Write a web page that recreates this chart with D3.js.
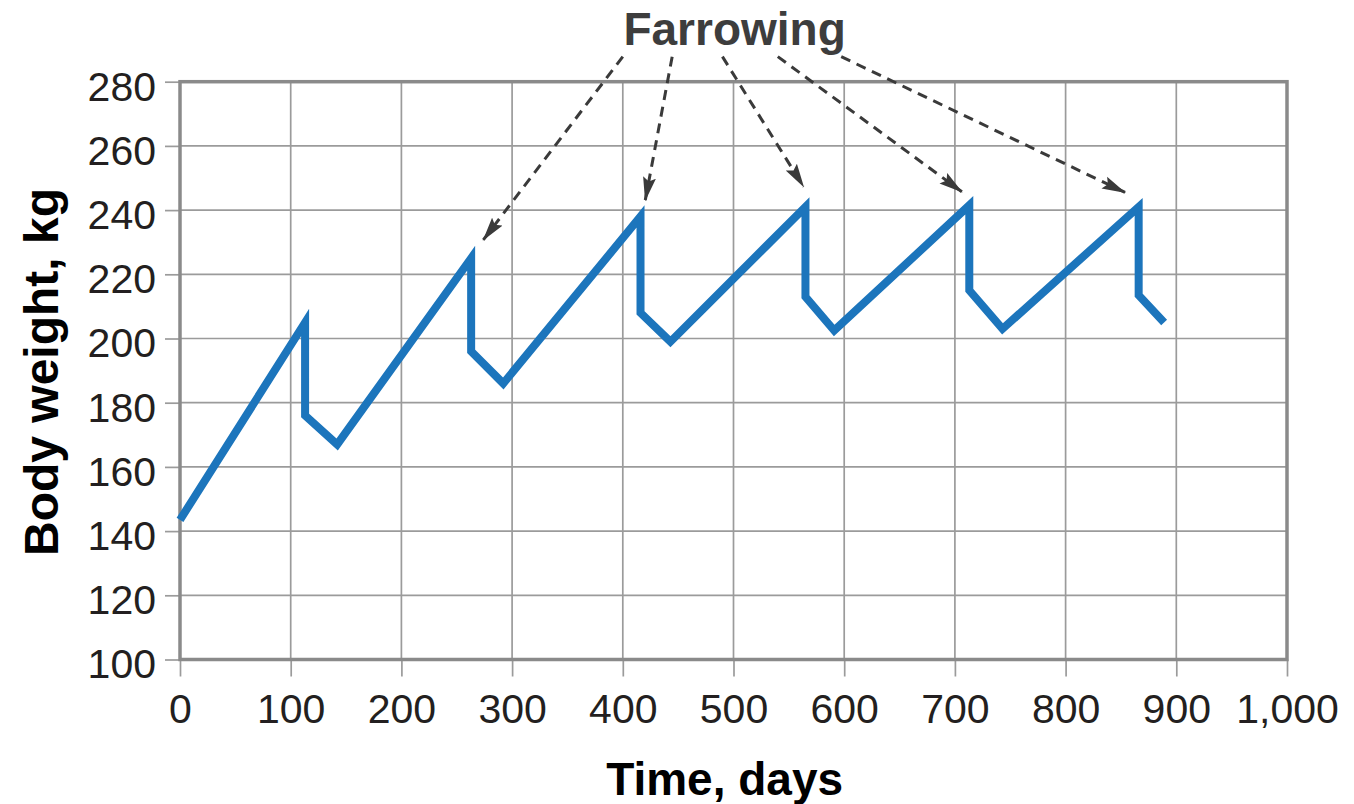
<!DOCTYPE html>
<html>
<head>
<meta charset="utf-8">
<script src="https://cdn.jsdelivr.net/npm/d3@7"></script>
<style>
  html, body { margin: 0; padding: 0; background: #fff; }
  svg { display: block; }
</style>
</head>
<body>
<svg id="chart" width="1354" height="804"></svg>
<script>
// ---- Data ----
const days    = [0, 113, 113, 142, 263, 263, 292, 416, 416, 443, 565, 565, 591, 713, 713, 743, 866, 866, 889];
const weights = [143.5, 205, 176, 167, 225, 196, 186, 238, 208, 199, 241, 213, 202.5, 241.5, 215, 203, 241, 213.5, 205];
const xTicks = [0, 100, 200, 300, 400, 500, 600, 700, 800, 900, 1000];
const yTicks = [100, 120, 140, 160, 180, 200, 220, 240, 260, 280];
// Annotation arrows (start -> tip, in data units)
const arrowStartDay = [400, 444.6, 490, 540, 597.3];
const arrowStartKg  = [287.8, 287.8, 287.8, 287.8, 287.8];
const arrowTipDay   = [274, 420.3, 563.3, 706.3, 853.7];
const arrowTipKg    = [230.7, 243.1, 247.3, 245.7, 245.5];
const annotationText = "Farrowing";
const xTitle = "Time, days";
const yTitle = "Body weight, kg";

// ---- Layout ----
const svg = d3.select("#chart");
const x = d3.scaleLinear().domain([0, 1000]).range([180, 1287]);
const y = d3.scaleLinear().domain([100, 280]).range([659.5, 81.7]);

const gridColor = "#9b9b9b";
const frameColor = "#8a8a8a";
const textColor = "#231f20";
const lineColor = "#1c75bc";
const arrowColor = "#3a3a3a";

// gridlines
svg.append("g").selectAll("line.v")
  .data(xTicks.filter(d => d > 0 && d < 1000))
  .join("line")
  .attr("x1", d => x(d)).attr("x2", d => x(d))
  .attr("y1", y(280)).attr("y2", y(100))
  .attr("stroke", gridColor).attr("stroke-width", 1.7);
svg.append("g").selectAll("line.h")
  .data(yTicks.filter(d => d > 100 && d < 280))
  .join("line")
  .attr("x1", x(0)).attr("x2", x(1000))
  .attr("y1", d => y(d)).attr("y2", d => y(d))
  .attr("stroke", gridColor).attr("stroke-width", 1.7);

// axes (ticks + labels)
const xAxis = svg.append("g")
  .attr("transform", `translate(0,${y(100)})`)
  .call(d3.axisBottom(x).tickValues(xTicks).tickFormat(d3.format(",")).tickSize(17).tickPadding(17));
const yAxis = svg.append("g")
  .attr("transform", `translate(${x(0)},0)`)
  .call(d3.axisLeft(y).tickValues(yTicks).tickSize(15).tickPadding(9));
[xAxis, yAxis].forEach(g => {
  g.select(".domain").remove();
  g.selectAll(".tick line").attr("stroke", gridColor).attr("stroke-width", 1.7);
  g.selectAll(".tick text")
    .attr("fill", textColor)
    .style("font-family", "'Liberation Sans', Arial, sans-serif")
    .style("font-size", "41px");
});
yAxis.selectAll(".tick text").attr("dy", "0.45em");

// frame
svg.append("rect")
  .attr("x", x(0)).attr("y", y(280))
  .attr("width", x(1000) - x(0)).attr("height", y(100) - y(280))
  .attr("fill", "none").attr("stroke", frameColor).attr("stroke-width", 3.5);

// data line
const pts = days.map((d, i) => [d, weights[i]]);
svg.append("path")
  .datum(pts)
  .attr("d", d3.line().x(d => x(d[0])).y(d => y(d[1])))
  .attr("fill", "none")
  .attr("stroke", lineColor)
  .attr("stroke-width", 8)
  .attr("stroke-linejoin", "miter")
  .attr("stroke-miterlimit", 10);

// arrow marker
svg.append("defs").append("marker")
  .attr("id", "arrowhead")
  .attr("viewBox", "0 -7 24 14")
  .attr("refX", 23).attr("refY", 0)
  .attr("markerUnits", "userSpaceOnUse")
  .attr("markerWidth", 24).attr("markerHeight", 14)
  .attr("orient", "auto")
  .append("path")
  .attr("d", "M0,-6.5L24,0L0,6.5L4,0Z")
  .attr("fill", arrowColor);

svg.append("g").selectAll("line")
  .data(arrowStartDay.map((d, i) => i))
  .join("line")
  .attr("x1", i => x(arrowStartDay[i])).attr("y1", i => y(arrowStartKg[i]))
  .attr("x2", i => x(arrowTipDay[i])).attr("y2", i => y(arrowTipKg[i]))
  .attr("stroke", arrowColor)
  .attr("stroke-width", 3)
  .attr("stroke-dasharray", "10,7")
  .attr("marker-end", "url(#arrowhead)");

// annotation text
svg.append("text")
  .attr("x", x(501)).attr("y", y(291.4))
  .attr("text-anchor", "middle")
  .attr("fill", "#3d3d3d")
  .style("font-family", "'Liberation Sans', Arial, sans-serif")
  .style("font-weight", "bold")
  .style("font-size", "46px")
  .text(annotationText);

// axis titles
svg.append("text")
  .attr("x", x(492)).attr("y", 795)
  .attr("text-anchor", "middle")
  .attr("fill", "#000")
  .style("font-family", "'Liberation Sans', Arial, sans-serif")
  .style("font-weight", "bold")
  .style("font-size", "46px")
  .text(xTitle);

svg.append("text")
  .attr("transform", `translate(58,372) rotate(-90)`)
  .attr("text-anchor", "middle")
  .attr("fill", "#000")
  .style("font-family", "'Liberation Sans', Arial, sans-serif")
  .style("font-weight", "bold")
  .style("font-size", "48px")
  .text(yTitle);
</script>
</body>
</html>
